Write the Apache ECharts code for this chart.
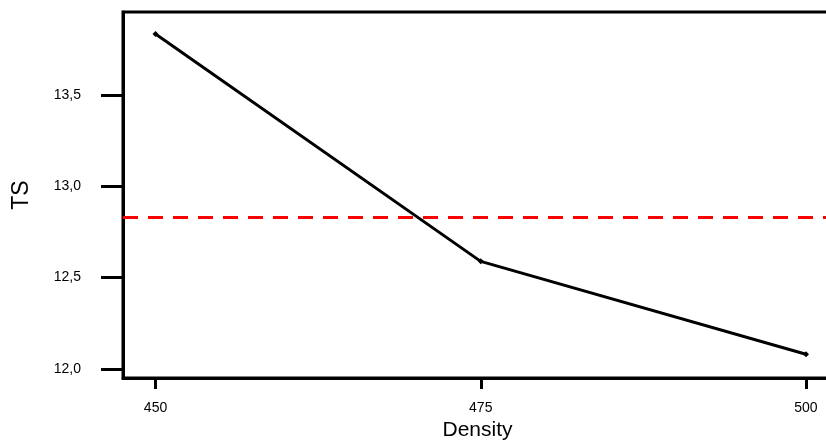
<!DOCTYPE html>
<html>
<head>
<meta charset="utf-8">
<style>
  html, body { margin: 0; padding: 0; background: #fff; }
  #chart { width: 826px; height: 444px; }
</style>
<script src="https://cdn.jsdelivr.net/npm/echarts@6/dist/echarts.min.js"></script>
</head>
<body>
<div id="chart"></div>
<script>
// Main-effect plot: TS mean at each Density level
const densityLevels = [450, 475, 500];
const tsMeans = [13.834, 12.589, 12.080];
const yTicks = [12.0, 12.5, 13.0, 13.5];

const chart = echarts.init(document.getElementById('chart'));
const font = 'Liberation Sans, Arial, sans-serif';

chart.setOption({
  backgroundColor: '#ffffff',
  animation: false,
  grid: {
    left: 123, top: 12, width: 709, height: 366,
    outerBoundsMode: 'none',
    containLabel: false,
    show: true, borderColor: '#000', borderWidth: 3
  },
  xAxis: {
    type: 'value',
    min: 447.5, max: 502,
    name: 'Density',
    nameLocation: 'middle',
    nameGap: 42,
    nameTextStyle: { fontFamily: font, fontSize: 21, color: '#000' },
    axisLine: { show: true, lineStyle: { color: '#000', width: 3 } },
    axisTick: { show: true, length: 11, lineStyle: { color: '#000', width: 3 }, customValues: densityLevels },
    axisLabel: { fontFamily: font, fontSize: 14, color: '#000', margin: 23, customValues: densityLevels },
    splitLine: { show: false }
  },
  yAxis: {
    type: 'value',
    min: 11.95, max: 13.955,
    name: 'TS',
    nameLocation: 'middle',
    nameGap: 90,
    nameRotate: 90,
    nameTextStyle: { fontFamily: font, fontSize: 23, color: '#000' },
    axisLine: { show: true, lineStyle: { color: '#000', width: 3 } },
    axisTick: { show: true, length: 22, lineStyle: { color: '#000', width: 3 }, customValues: yTicks },
    axisLabel: {
      fontFamily: font, fontSize: 14, color: '#000', margin: 42,
      customValues: yTicks,
      formatter: v => v.toFixed(1).replace('.', ',')
    },
    splitLine: { show: false }
  },
  series: [{
    type: 'line',
    data: densityLevels.map((d, i) => [d, tsMeans[i]]),
    lineStyle: { color: '#000', width: 3 },
    itemStyle: { color: '#000' },
    symbol: 'diamond',
    symbolSize: 6,
    markLine: {
      silent: true,
      symbol: 'none',
      label: { show: false },
      lineStyle: { color: '#ff0000', width: 3, type: [15, 10] },
      data: [{ type: 'average' }]
    }
  }]
});
</script>
</body>
</html>
